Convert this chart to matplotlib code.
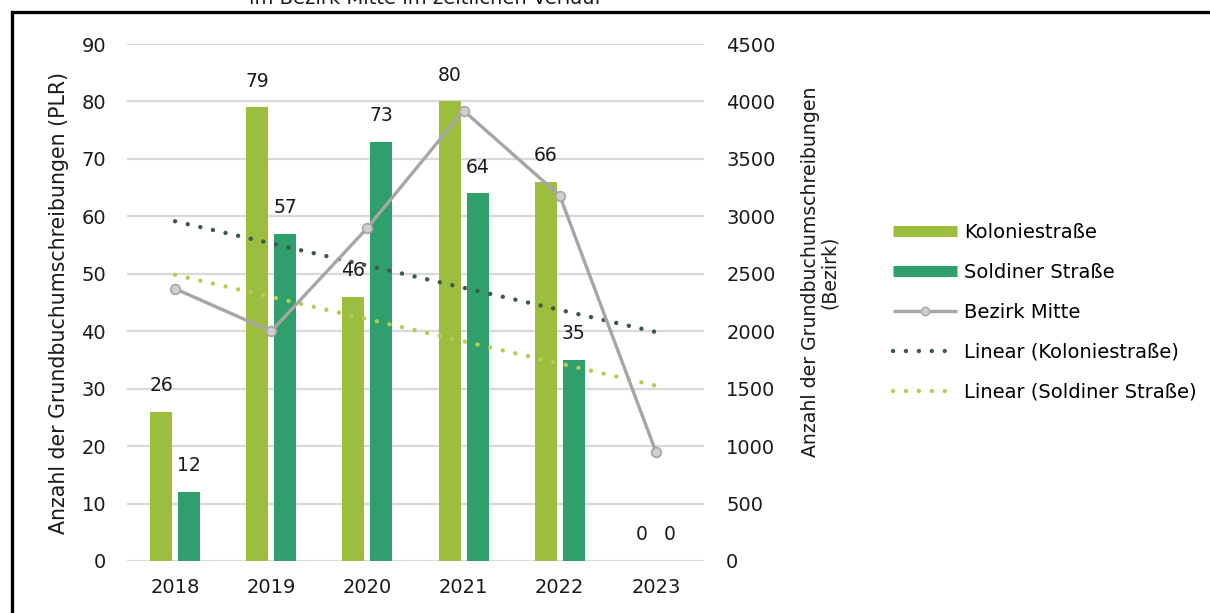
import matplotlib
matplotlib.use("Agg")
import matplotlib.pyplot as plt
import numpy as np
from matplotlib.lines import Line2D
from matplotlib.patches import Rectangle

plt.rcParams['font.family'] = ['DejaVu Sans']

years = ["2018", "2019", "2020", "2021", "2022", "2023"]
kolonie = [26, 79, 46, 80, 66, 0]
soldiner = [12, 57, 73, 64, 35, 0]
bezirk = [2370, 2000, 2900, 3920, 3180, 950]

c_kol = "#9dbd3e"
c_sol = "#2f9f6c"
c_bez = "#a6a6a6"
c_trend_dark = "#3f5a45"
c_trend_light = "#b6cc5a"
c_grid = "#d9d9d9"
c_text = "#1a1a1a"

fig = plt.figure(figsize=(12.1, 6.13), dpi=100)
ax = fig.add_axes([127/1210, 1-561/613, (704-127)/1210, (561-44)/613])
ax2 = ax.twinx()

x = np.arange(len(years))
w = 0.228
off = 0.146
b1 = ax.bar(x - off, kolonie, w, color=c_kol, zorder=2)
b2 = ax.bar(x + off, soldiner, w, color=c_sol, zorder=2)
for rects, vals in ((b1, kolonie), (b2, soldiner)):
    for r, v in zip(rects, vals):
        ax.annotate(f"{v}", (r.get_x() + r.get_width()/2, v), xytext=(0, 12),
                    textcoords="offset points", ha="center", va="bottom",
                    fontsize=13.5, color=c_text, zorder=5)

# linear trendlines (least squares as in Excel)
xt = x + 1
pk = np.polyfit(xt, kolonie, 1)
ps = np.polyfit(xt, soldiner, 1)
dots = (0, (0.01, 2.9))
ax.plot(x, np.polyval(pk, xt), color=c_trend_dark, lw=3.2, linestyle=dots,
        dash_capstyle="round", zorder=3)
ax.plot(x, np.polyval(ps, xt), color=c_trend_light, lw=3.2, linestyle=dots,
        dash_capstyle="round", zorder=3)

ax2.plot(x, bezirk, color=c_bez, lw=2.4, marker="o", markersize=7,
         markerfacecolor="#cfcfcf", markeredgecolor=c_bez, markeredgewidth=1.2)

ax.set_xlim(-0.5, 5.5)
ax.set_ylim(0, 90)
ax.set_yticks(range(0, 91, 10))
ax2.set_ylim(0, 4500)
ax2.set_yticks(range(0, 4501, 500))
ax.set_xticks(x)
ax.set_xticklabels(years)
ax.grid(axis="y", color=c_grid, lw=1.6, zorder=0)
ax.set_axisbelow(True)
for a in (ax, ax2):
    for s in a.spines.values():
        s.set_visible(False)
    a.tick_params(length=0, labelsize=14, colors=c_text)
ax.tick_params(axis="y", pad=15)
ax.tick_params(axis="x", pad=12)
ax2.tick_params(axis="y", pad=16)

ax.set_ylabel("Anzahl der Grundbuchumschreibungen (PLR)", fontsize=14.8,
              color=c_text, labelpad=9)
ax2.set_ylabel("Anzahl der Grundbuchumschreibungen\n(Bezirk)", fontsize=13.6,
               color=c_text, labelpad=18, linespacing=1.05)
ax2.yaxis.label.set_y((561 - 272) / 517)

handles = [
    Line2D([], [], color=c_kol, lw=8, solid_capstyle="butt"),
    Line2D([], [], color=c_sol, lw=8, solid_capstyle="butt"),
    Line2D([], [], color=c_bez, lw=2.4, marker="o", markersize=6,
           markerfacecolor="#cfcfcf", markeredgecolor=c_bez, solid_capstyle="butt"),
    Line2D([], [], color=c_trend_dark, lw=3.2, linestyle=dots, dash_capstyle="round"),
    Line2D([], [], color=c_trend_light, lw=3.2, linestyle=dots, dash_capstyle="round"),
]
labels = ["Koloniestraße", "Soldiner Straße", "Bezirk Mitte",
          "Linear (Koloniestraße)", "Linear (Soldiner Straße)"]
fig.legend(handles, labels, loc="center left", bbox_to_anchor=(879/1210, 1-312/613),
           frameon=False, fontsize=14, handlelength=3.3, handletextpad=0.36,
           labelspacing=1.08, borderpad=0.2)

fig.text(425/1210, 1.0 + 2/613, "im Bezirk Mitte im zeitlichen Verlauf", ha="center",
         va="center", fontsize=14, color=c_text)

fig.patches.append(Rectangle((12/1210, -0.1), 1.2, 1.1 - 12/613, transform=fig.transFigure,
                             fill=False, edgecolor="black", lw=2.4, zorder=10))

fig.savefig("out.png", dpi=100)
